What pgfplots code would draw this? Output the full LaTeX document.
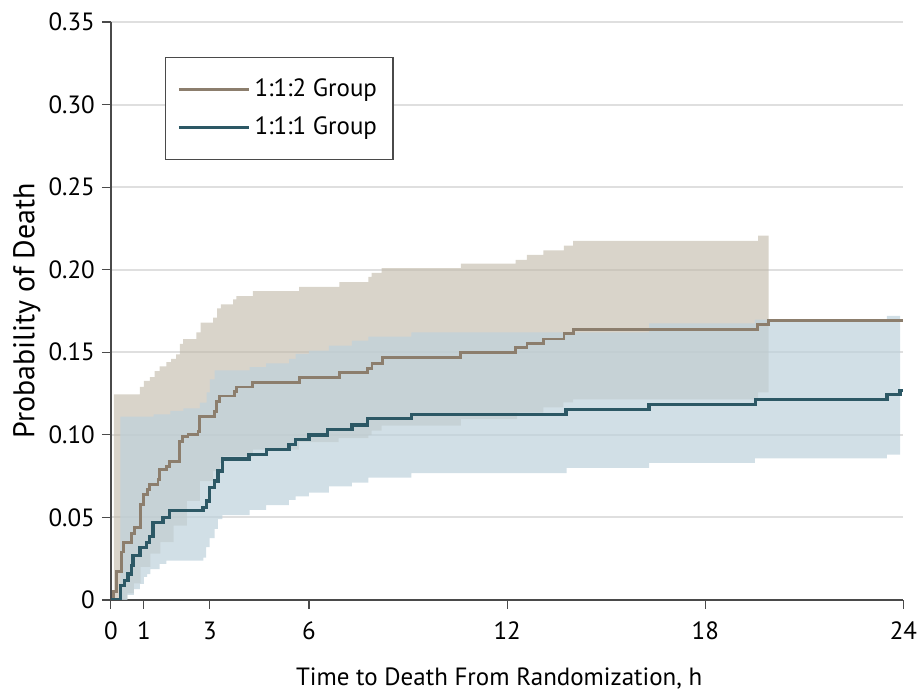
\documentclass[border=0pt]{standalone}
\usepackage{fontspec}
\setmainfont{PT Sans}
\usepackage{pgfplots}
\pgfplotsset{compat=1.18}
\usepgfplotslibrary{fillbetween}

\definecolor{brownline}{HTML}{8C7E6D}
\definecolor{tealline}{HTML}{2C5865}
\definecolor{tanband}{RGB}{192,183,167}
\definecolor{blueband}{RGB}{190,210,220}
\definecolor{axisgray}{HTML}{4A4A4A}

\begin{document}
\begin{tikzpicture}[font=\fontsize{12.5}{14}\selectfont]
\begin{axis}[
  scale only axis,
  width=397pt, height=289.5pt,
  xmin=0, xmax=24, ymin=0, ymax=0.35,
  axis lines*=left,
  axis line style={axisgray, line width=0.7pt},
  tick align=outside,
  major tick length=4.5pt,
  tick style={axisgray, line width=0.6pt},
  xtick={0,1,3,6,12,18,24},
  ytick={0,0.05,0.10,0.15,0.20,0.25,0.30,0.35},
  yticklabels={0,0.05,0.10,0.15,0.20,0.25,0.30,0.35},
  xticklabel style={yshift=-3pt, inner xsep=0pt},
  /pgf/number format/assume math mode=true,
  ymajorgrids,
  grid style={gray!25, line width=1pt},
  xlabel={Time to Death From Randomization, h},
  ylabel={\fontsize{15}{17}\selectfont Probability of Death},
  every axis x label/.style={at={(axis description cs:0.49,-0.136)}, anchor=center, inner sep=0pt},
  every axis y label/.style={at={(axis description cs:-0.106,0.5)}, rotate=90, anchor=center, inner sep=0pt},
  legend style={at={(axis description cs:0.068,0.94)}, anchor=north west,
    draw=axisgray, line width=0.6pt, inner xsep=6pt, inner ysep=9pt,
    row sep=4.5pt, font=\fontsize{12.5}{14}\selectfont},
  legend cell align=left,
  legend image code/.code={\draw[#1] (0pt,0pt) -- (35pt,0pt);},
]

% 1:1:2 group confidence band
\addplot[name path=uA, draw=none, const plot, forget plot] coordinates {
  (0.09,0.1245) (0.88,0.129) (1.0,0.1326) (1.18,0.135) (1.33,0.1385) (1.48,0.1415)
  (1.68,0.144) (1.83,0.146) (1.98,0.1487) (2.09,0.155) (2.19,0.158) (2.59,0.162)
  (2.72,0.168) (3.1,0.171) (3.22,0.1765) (3.33,0.179) (3.7,0.182) (3.8,0.184)
  (4.3,0.187) (5.7,0.1896) (6.92,0.1924) (7.8,0.1957) (7.9,0.198) (8.2,0.201)
  (10.6,0.2036) (12.26,0.206) (12.6,0.209) (13.1,0.2117) (13.72,0.2145) (14.0,0.2175)
  (19.6,0.2206) (19.92,0.2206)};
\addplot[name path=lA, draw=none, const plot, forget plot] coordinates {
  (0.09,0) (0.5,0.004) (0.7,0.01) (0.9,0.02) (1.2,0.028) (1.5,0.035) (1.9,0.045)
  (2.3,0.06) (2.7,0.072) (3.1,0.078) (3.3,0.083) (3.4,0.087) (4.3,0.091) (5.7,0.0955)
  (6.9,0.098) (7.8,0.0998) (7.9,0.1025) (8.2,0.1055) (10.6,0.1095) (12.3,0.1135)
  (13.1,0.1166) (13.7,0.1196) (14.0,0.1215) (19.6,0.1257) (19.92,0.1257)};
\addplot[tanband, fill opacity=0.6, forget plot] fill between[of=uA and lA];

% 1:1:1 group confidence band
\addplot[name path=uB, draw=none, const plot, forget plot] coordinates {
  (0.29,0.111) (1.3,0.1124) (1.8,0.1145) (2.2,0.116) (2.7,0.1195) (2.9,0.1257)
  (3.0,0.1336) (3.14,0.139) (4.2,0.141) (4.7,0.1433) (5.4,0.146) (5.6,0.149)
  (6.0,0.151) (6.6,0.154) (7.3,0.157) (7.8,0.1594) (9.1,0.162) (16.3,0.1675)
  (19.5,0.1697) (23.5,0.172) (23.9,0.172)};
\addplot[name path=lB, draw=none, const plot, forget plot] coordinates {
  (0.29,0) (0.5,0.003) (0.7,0.0066) (0.88,0.0097) (1.0,0.0139) (1.1,0.0157)
  (1.2,0.0187) (1.48,0.0218) (1.68,0.0238) (2.8,0.0257) (2.89,0.032) (2.99,0.0375)
  (3.14,0.043) (3.24,0.049) (3.38,0.0514) (4.2,0.0546) (4.7,0.0574) (5.39,0.0606)
  (5.6,0.0627) (6.0,0.065) (6.6,0.0687) (7.3,0.071) (7.8,0.074) (9.1,0.0768)
  (13.8,0.080) (16.3,0.083) (19.5,0.0857) (23.5,0.088) (23.9,0.088)};
\addplot[blueband, fill opacity=0.7, forget plot] fill between[of=uB and lB];

% step curves
\addplot[brownline, line width=1.4pt, const plot] coordinates {
  (0,0) (0.09,0.005) (0.17,0.017) (0.32,0.029) (0.39,0.035) (0.62,0.040) (0.71,0.044)
  (0.90,0.058) (0.98,0.064) (1.10,0.067) (1.18,0.070) (1.43,0.073) (1.48,0.079)
  (1.68,0.081) (1.78,0.084) (2.09,0.096) (2.17,0.099) (2.34,0.100) (2.64,0.102)
  (2.69,0.111) (3.14,0.114) (3.20,0.120) (3.30,0.1235) (3.75,0.126) (3.80,0.129)
  (4.28,0.1318) (5.71,0.1348) (6.92,0.1378) (7.78,0.140) (7.91,0.1433) (8.23,0.147)
  (10.6,0.150) (12.26,0.153) (12.6,0.1554) (13.1,0.158) (13.72,0.1614) (14.0,0.1638)
  (19.57,0.1668) (19.92,0.1694) (24,0.1694)};
\addlegendentry{1:1:2 Group}
\addplot[tealline, line width=1.7pt, const plot] coordinates {
  (0,0) (0.29,0.0087) (0.42,0.0117) (0.52,0.0157) (0.62,0.0207) (0.67,0.0268)
  (0.88,0.0318) (1.08,0.0349) (1.18,0.0385) (1.28,0.047) (1.58,0.050) (1.78,0.054)
  (2.79,0.056) (2.89,0.060) (2.99,0.068) (3.14,0.072) (3.24,0.078) (3.38,0.0853)
  (4.18,0.088) (4.71,0.091) (5.39,0.094) (5.59,0.097) (6.0,0.100) (6.57,0.1033)
  (7.3,0.106) (7.78,0.1097) (9.11,0.1124) (13.78,0.1154) (16.3,0.1185) (19.52,0.1215)
  (23.5,0.1245) (23.9,0.127) (24,0.127)};
\addlegendentry{1:1:1 Group}

\end{axis}
\path (-55.5pt,-48pt) rectangle (403pt,300.5pt);
\end{tikzpicture}
\end{document}
